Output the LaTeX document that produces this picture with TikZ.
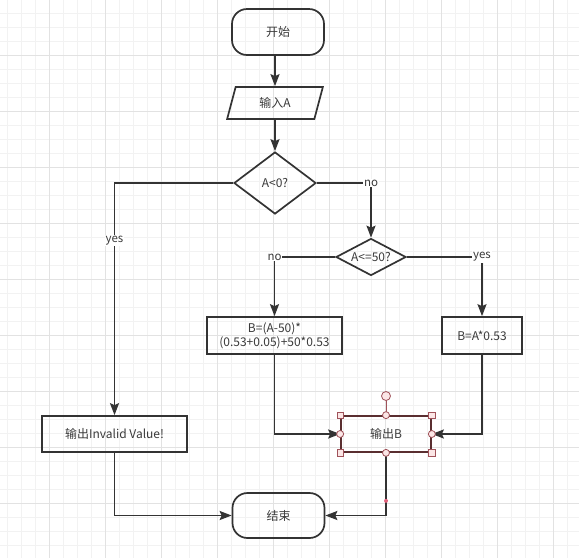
\documentclass[tikz,border=0pt]{standalone}
\usepackage{fontspec}
\setmainfont{Noto Sans CJK SC}
\usetikzlibrary{shapes.geometric,arrows.meta}
\definecolor{ln}{HTML}{333333}
\definecolor{tx}{HTML}{3a3a3a}
\definecolor{gmin}{HTML}{F2F2F2}
\definecolor{gmaj}{HTML}{E2E2E2}
\definecolor{selb}{HTML}{5A2E30}
\definecolor{hstroke}{HTML}{A0525A}
\definecolor{hfill}{HTML}{FBE6E6}
\definecolor{reddot}{HTML}{E0607A}
\tikzset{
  base/.style={draw=ln, line width=1.7pt, inner sep=0pt, text=tx, font=\fontsize{12}{14}\selectfont, align=center},
  term/.style={base, rounded corners=15pt, minimum width=92pt, minimum height=46pt},
  box/.style={base, rectangle, minimum height=37pt},
  para/.style={base, trapezium, trapezium left angle=73, trapezium right angle=107, trapezium stretches=true, minimum width=96pt, minimum height=32pt},
  dia/.style={base, diamond, line join=miter},
  arr/.style={draw=ln, line width=1.8pt, -{Stealth[length=12pt,width=9pt,inset=2pt]}},
  lbl/.style={fill=white, text=tx, inner sep=1pt, font=\fontsize{11.5}{13}\selectfont},
  hsq/.style={draw=hstroke, fill=hfill, line width=0.8pt, rectangle, minimum size=6.5pt, inner sep=0pt},
  hcirc/.style={draw=hstroke, fill=hfill, line width=0.8pt, circle, minimum size=7pt, inner sep=0pt},
}
\begin{document}
\begin{tikzpicture}[x=1pt,y=-1pt]
\useasboundingbox (0,0) rectangle (579,558);
\fill[white] (0,0) rectangle (579,558);
% grid
\foreach \x in {7,21,...,577} \draw[gmin, line width=0.8pt] (\x,0) -- (\x,558);
\foreach \y in {13,27,...,557} \draw[gmin, line width=0.8pt] (0,\y) -- (579,\y);
\foreach \x in {49,105,...,553} \draw[gmaj, line width=0.8pt] (\x,0) -- (\x,558);
\foreach \y in {55,111,...,503} \draw[gmaj, line width=0.8pt] (0,\y) -- (579,\y);

% nodes
\node[term] (start) at (278,32) {开始};
\node[para] (inA) at (275,103) {输入A};
\node[dia, minimum width=82pt, minimum height=62pt, label={[text=tx, font=\fontsize{12}{14}\selectfont]center:A<0?}] (d1) at (275,183) {};
\node[dia, minimum width=70pt, minimum height=37pt, label={[text=tx, font=\fontsize{12}{14}\selectfont]center:A<=50?}] (d2) at (371,257) {};
\node[box, minimum width=135pt] (b1) at (274.5,335.5) {B=(A-50)*\\(0.53+0.05)+50*0.53};
\node[box, minimum width=80pt] (b2) at (482,335.5) {B=A*0.53};
\node[box, minimum width=145pt, minimum height=36pt] (inv) at (114.5,434) {输出Invalid Value!};
\node[box, minimum width=90pt, minimum height=36pt, draw=selb] (out) at (386,434) {输出B};
\node[term, minimum height=45pt] (end) at (278.5,515.5) {结束};

% connectors
\draw[arr] (start.south -| inA.north) -- (inA.north);
\draw[arr] (inA.south) -- (d1.north);
\draw[arr] (d1.east) -| node[lbl, pos=0.5] (lno1) {no} (d2.north);
\draw[arr] (d1.west) -| node[lbl, pos=0.624] (lyes1) {yes} (inv.north);
\draw[arr] (d2.west) -| node[lbl, pos=0.5] (lno2) {no} (b1.north);
\draw[arr] (d2.east) -| node[lbl, pos=0.5] (lyes2) {yes} (b2.north);
\draw[arr] (b1.south) |- (out.west);
\draw[arr] (b2.south) |- (out.east);
\draw[arr] (out.south) |- node[pos=0.383, circle, fill=reddot, minimum size=4pt, inner sep=0pt] (edot) {} (end.east);
\draw[arr] (inv.south) |- (end.west);

% selection handles
\coordinate (rotc) at (386,396);
\draw[hstroke, line width=0.8pt] (rotc) -- (out.north);
\node[hcirc, minimum size=9pt] (rot) at (rotc) {};
\node[hsq] (h1) at (out.north west) {};
\node[hsq] (h2) at (out.north east) {};
\node[hsq] (h3) at (out.south west) {};
\node[hsq] (h4) at (out.south east) {};
\node[hcirc] (h5) at (out.north) {};
\node[hcirc] (h6) at (out.south) {};
\node[hcirc] (h7) at (out.west) {};
\node[hcirc] (h8) at (out.east) {};
\end{tikzpicture}
\end{document}
